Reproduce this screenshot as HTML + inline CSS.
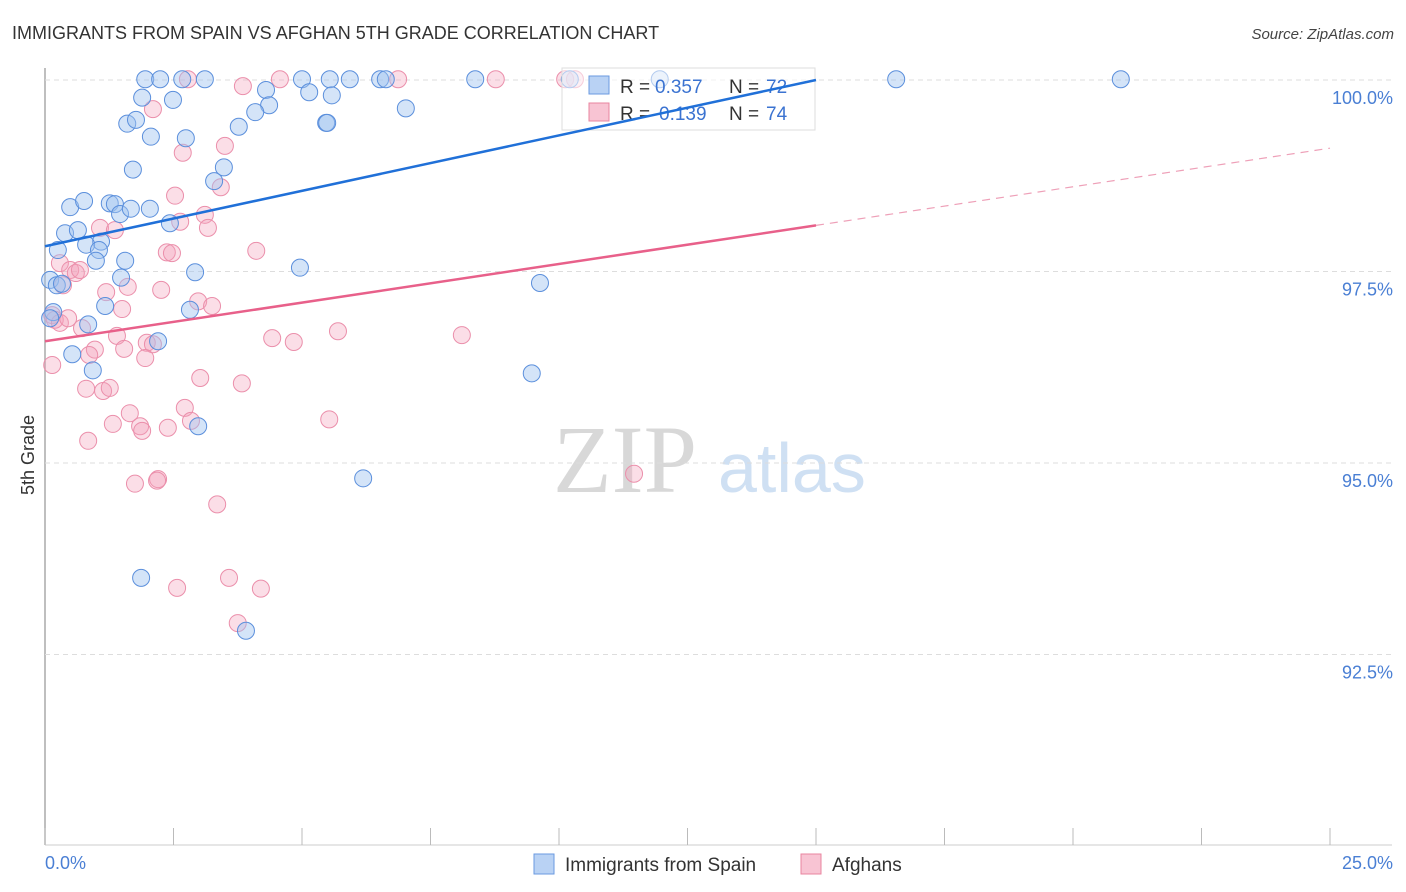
<!DOCTYPE html>
<html><head><meta charset="utf-8"><style>
body{margin:0;background:#fff;font-family:"Liberation Sans",sans-serif}
svg{display:block}
</style></head><body>
<svg id="chart" width="1406" height="892" xmlns="http://www.w3.org/2000/svg">
<text x="12" y="39" font-size="18" fill="#333">IMMIGRANTS FROM SPAIN VS AFGHAN 5TH GRADE CORRELATION CHART</text>
<text x="1394" y="39" font-size="15" fill="#444" font-style="italic" text-anchor="end">Source: ZipAtlas.com</text>
<g><text x="553" y="492" font-family="Liberation Serif,serif" font-size="96" fill="#d8d8d8">ZIP</text><text x="718" y="492" font-size="70" fill="#cfe0f3">atlas</text></g>
<g id="grid"></g>
<g id="pts"></g>
<g>
<rect x="562" y="68" width="253" height="62" fill="#fff" fill-opacity="0.55" stroke="#ddd"/>
<rect x="589" y="76" width="20" height="18" fill="#b9d2f4" stroke="#6a9ae0"/>
<text x="620" y="93" font-size="19" fill="#333">R =</text>
<text x="655" y="93" font-size="19" fill="#3b73d1">0.357</text>
<text x="729" y="93" font-size="19" fill="#333">N =</text>
<text x="766" y="93" font-size="19" fill="#3b73d1">72</text>
<rect x="589" y="103" width="20" height="18" fill="#f8c4d3" stroke="#e9849f"/>
<text x="620" y="120" font-size="19" fill="#333">R =</text>
<text x="659" y="120" font-size="19" fill="#3b73d1">0.139</text>
<text x="729" y="120" font-size="19" fill="#333">N =</text>
<text x="766" y="120" font-size="19" fill="#3b73d1">74</text>
</g>
<g id="lines"></g>
<text transform="translate(34,455) rotate(-90)" font-size="18" fill="#333" text-anchor="middle">5th Grade</text>
<text x="45" y="869" font-size="18" fill="#4a7fd4">0.0%</text>
<text x="1393" y="869" font-size="18" fill="#4a7fd4" text-anchor="end">25.0%</text>
<g>
<rect x="534" y="854" width="20" height="20" fill="#b9d2f4" stroke="#6a9ae0"/>
<text x="565" y="871" font-size="19" fill="#333">Immigrants from Spain</text>
<rect x="801" y="854" width="20" height="20" fill="#f8c4d3" stroke="#e9849f"/>
<text x="832" y="871" font-size="19" fill="#333">Afghans</text>
</g>
</svg>
<script>
const yTicks=[100,97.5,95,92.5];
const yTickLabels=["100.0%","97.5%","95.0%","92.5%"];
const xTicks=[0,2.5,5,7.5,10,12.5,15,17.5,20,22.5,25];
const bluePx=[[145,79],[160,79],[182,79],[205,79],[302,79],[330,79],[350,79],[380,79],[386,79],[475,79],[570,79],[660,79],[896,79],[1121,79],[142,98],[173,100],[266,90],[309,92],[332,95],[269,105],[255,112],[406,108],[127,124],[136,120],[151,137],[186,138],[239,127],[326,123],[327,123],[133,170],[224,167],[214,181],[70,207],[84,201],[110,203],[115,204],[120,214],[131,209],[150,209],[170,223],[65,233],[78,230],[101,242],[86,245],[58,250],[99,250],[96,261],[125,261],[195,272],[300,268],[121,278],[540,283],[50,280],[57,285],[62,284],[105,306],[190,310],[53,312],[50,318],[88,324],[158,341],[72,354],[93,370],[532,373],[198,426],[363,478],[141,578],[246,631]];
const pinkPx=[[188,79],[280,79],[398,79],[496,79],[565,79],[575,79],[243,86],[153,109],[183,153],[225,146],[221,187],[175,196],[205,215],[208,228],[100,228],[115,230],[180,222],[167,252],[172,253],[256,251],[60,263],[70,270],[76,273],[80,270],[63,285],[106,292],[128,287],[161,290],[198,301],[212,306],[122,309],[52,315],[55,320],[60,323],[68,318],[82,328],[117,336],[147,343],[153,344],[272,338],[294,342],[338,331],[462,335],[52,365],[95,350],[89,355],[124,349],[145,358],[200,378],[242,383],[86,389],[103,391],[110,388],[130,413],[185,408],[113,424],[140,426],[142,431],[168,428],[191,421],[329,419],[88,441],[135,484],[158,479],[157,481],[217,504],[634,474],[177,588],[229,578],[261,589],[238,623]];
const blueX=bluePx.map(p=>+((p[0]-45)/51.4).toFixed(2)), blueY=bluePx.map(p=>+(100-(p[1]-80)/76.6).toFixed(2));
const pinkX=pinkPx.map(p=>+((p[0]-45)/51.4).toFixed(2)), pinkY=pinkPx.map(p=>+(100-(p[1]-80)/76.6).toFixed(2));
const blueTrend=[97.83,100.0];
const pinkTrend=[96.59,99.11];
const sx=v=>45+v*51.4, sy=v=>80+(100-v)*76.6;
const NS="http://www.w3.org/2000/svg";
function mk(t,a,p){const e=document.createElementNS(NS,t);for(const k in a)e.setAttribute(k,a[k]);p.appendChild(e);return e;}
const grid=document.getElementById('grid');
mk('line',{x1:45,y1:68,x2:45,y2:845,stroke:'#aaa','stroke-width':1.5},grid);
mk('line',{x1:45,y1:845,x2:1392,y2:845,stroke:'#ccc'},grid);
yTicks.forEach((t,i)=>{
 const l=mk('line',{x1:45,y1:sy(t),x2:1392,y2:sy(t),stroke:'#ddd','stroke-dasharray':'5,4'},grid);
 
 
 const tx=mk('text',{x:1393,y:sy(t)+24,'font-size':18,fill:'#4a7fd4','text-anchor':'end'},grid);
 tx.textContent=yTickLabels[i];
 
 
});
xTicks.forEach(t=>{
 const l=mk('line',{x1:sx(t),y1:828,x2:sx(t),y2:845,stroke:'#bbb'},grid);
 
 
});
const pts=document.getElementById('pts');
pinkX.forEach((x,i)=>{
 const c=mk('circle',{cx:sx(x),cy:sy(pinkY[i]),r:8.5,fill:'rgba(244,160,186,0.35)',stroke:'#eb8fab','stroke-width':1},pts);
 
 
});
blueX.forEach((x,i)=>{
 const c=mk('circle',{cx:sx(x),cy:sy(blueY[i]),r:8.5,fill:'rgba(160,195,240,0.45)',stroke:'#5b8fdc','stroke-width':1},pts);
 
 
});
const lines=document.getElementById('lines');
const bl=mk('line',{x1:sx(0),y1:sy(blueTrend[0]),x2:sx(15),y2:sy(blueTrend[1]),stroke:'#2070d8','stroke-width':2.5},lines);


const pm=pinkTrend[0]+(pinkTrend[1]-pinkTrend[0])*15/25;
const pl=mk('line',{x1:sx(0),y1:sy(pinkTrend[0]),x2:sx(15),y2:sy(pm),stroke:'#e8608a','stroke-width':2.5},lines);


const pd=mk('line',{x1:sx(15),y1:sy(pm),x2:sx(25),y2:sy(pinkTrend[1]),stroke:'#eea0b8','stroke-width':1.2,'stroke-dasharray':'8,6'},lines);


</script>
</body></html>
